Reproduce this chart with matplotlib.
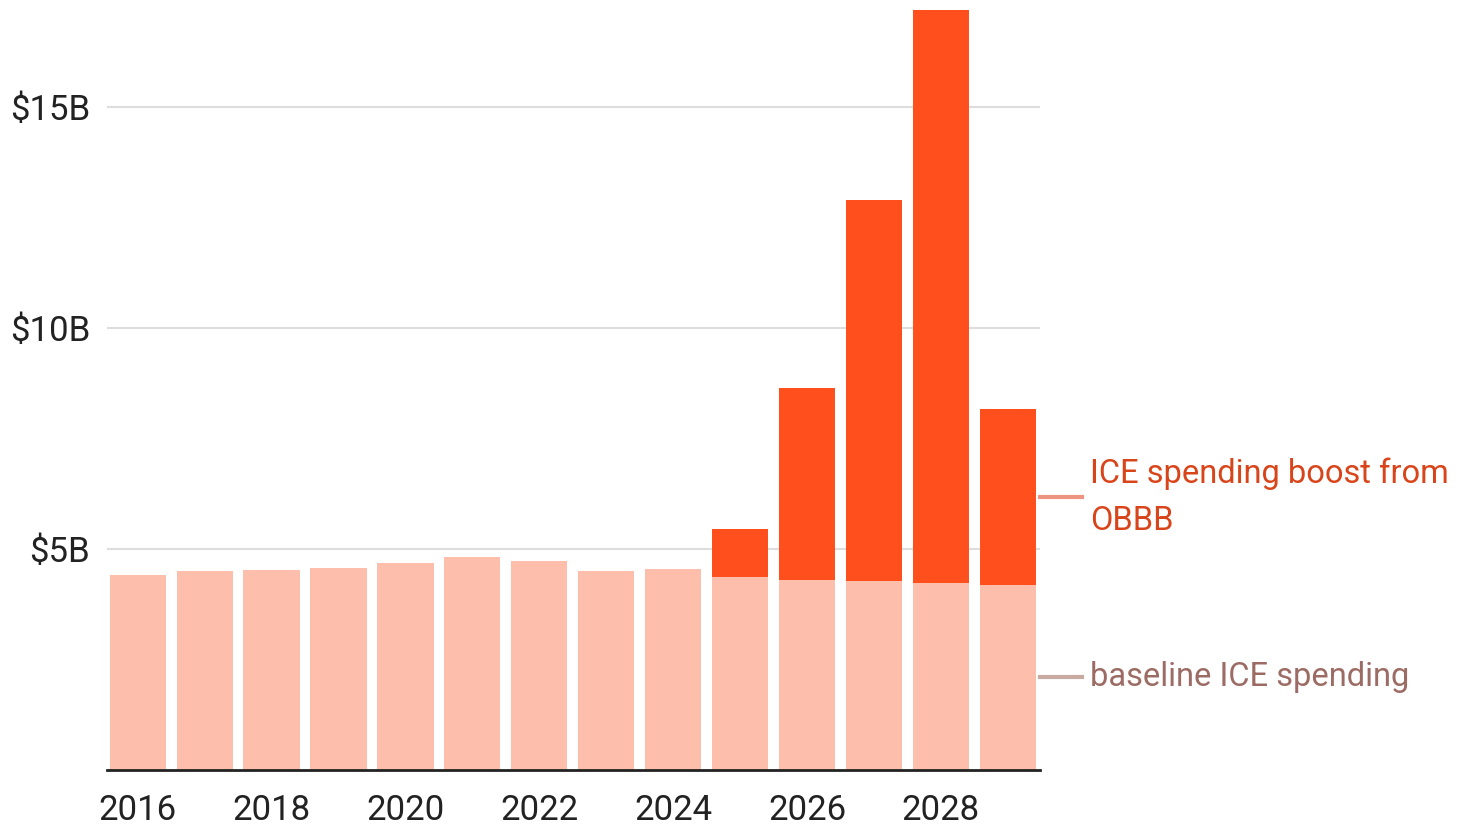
import numpy as np
import matplotlib
import matplotlib.pyplot as plt
matplotlib.use("Agg")

# Fiscal years and spending (billions of dollars)
years = np.arange(2016, 2030)
baseline = [4.41, 4.50, 4.52, 4.57, 4.68, 4.82, 4.73, 4.50, 4.55,
            4.37, 4.30, 4.28, 4.23, 4.19]
total = [4.41, 4.50, 4.52, 4.57, 4.68, 4.82, 4.73, 4.50, 4.55,
         5.45, 8.64, 12.90, 17.19, 8.17]
boost = [t - b for t, b in zip(total, baseline)]

y_ticks = [5, 10, 15]
y_tick_labels = ["$5B", "$10B", "$15B"]
x_ticks = [2016, 2018, 2020, 2022, 2024, 2026, 2028]

plt.rcParams["font.family"] = ["Roboto", "DejaVu Sans"]

fig = plt.figure(figsize=(14.81, 8.24), dpi=100)
ax = fig.add_axes([0.0722, 0.0655, 0.63, 0.928])

ax.bar(years, baseline, width=0.84, color="#fdbfab", zorder=2)
ax.bar(years, boost, bottom=baseline, width=0.84, color="#fe4f1d", zorder=2)

ax.set_xlim(2015.54, 2029.48)
ax.set_ylim(0, 17.3)

ax.set_yticks(y_ticks)
ax.set_yticklabels(y_tick_labels)
ax.set_xticks(x_ticks)
ax.tick_params(axis="both", length=0, labelsize=25, colors="#222222")
ax.tick_params(axis="y", pad=12)
ax.tick_params(axis="x", pad=17)
ax.grid(axis="y", color="#dddddd", linewidth=1.5, zorder=0)

for side in ["top", "right", "left"]:
    ax.spines[side].set_visible(False)
ax.spines["bottom"].set_color("#222222")
ax.spines["bottom"].set_linewidth(2)
ax.spines["bottom"].set_zorder(3)

# Direct labels on the right, tied to the 2029 bar
trans = ax.get_yaxis_transform()
y_boost = baseline[-1] + boost[-1] / 2
y_base = baseline[-1] / 2

ax.plot([1.0, 1.045], [y_boost, y_boost], transform=trans,
        color="#ec9480", linewidth=3, clip_on=False)
ax.text(1.054, y_boost, "ICE spending boost from\nOBBB", transform=trans,
        ha="left", va="center", fontsize=23.5, color="#d9451a",
        linespacing=1.6)

ax.plot([1.0, 1.045], [y_base, y_base], transform=trans,
        color="#c9aaa2", linewidth=3, clip_on=False)
ax.text(1.054, y_base, "baseline ICE spending", transform=trans,
        ha="left", va="center", fontsize=23.5, color="#9c6b63")

fig.savefig("out.png", dpi=100)
